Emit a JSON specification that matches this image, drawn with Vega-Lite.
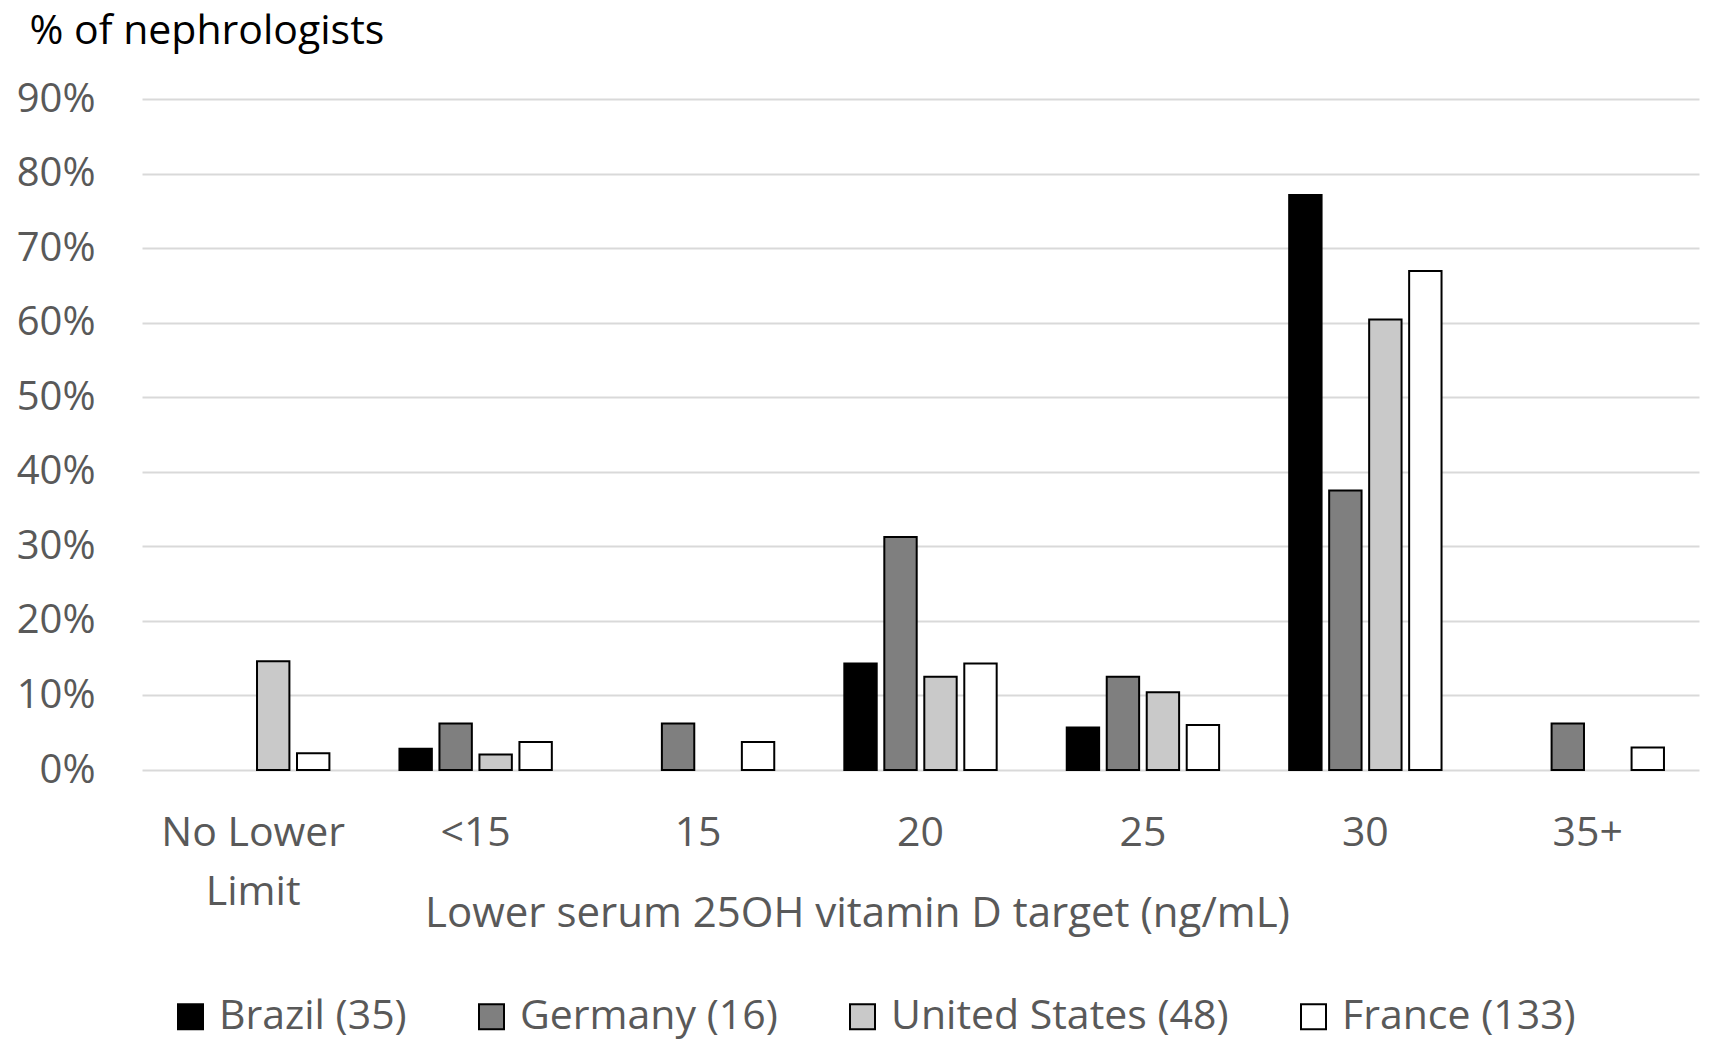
{
  "$schema": "https://vega.github.io/schema/vega-lite/v6.json",
  "width": 1557,
  "height": 671,
  "autosize": "none",
  "padding": {"left": 142, "top": 99, "right": 11, "bottom": 275},
  "background": "white",
  "config": {"view": {"stroke": null}, "font": "Open Sans"},
  "data": {
    "values": [
      {"cat": "No Lower Limit", "country": "United States (48)", "pct": 14.58},
      {"cat": "No Lower Limit", "country": "France (133)", "pct": 2.26},
      {"cat": "<15", "country": "Brazil (35)", "pct": 2.86},
      {"cat": "<15", "country": "Germany (16)", "pct": 6.25},
      {"cat": "<15", "country": "United States (48)", "pct": 2.08},
      {"cat": "<15", "country": "France (133)", "pct": 3.76},
      {"cat": "15", "country": "Germany (16)", "pct": 6.25},
      {"cat": "15", "country": "France (133)", "pct": 3.76},
      {"cat": "20", "country": "Brazil (35)", "pct": 14.29},
      {"cat": "20", "country": "Germany (16)", "pct": 31.25},
      {"cat": "20", "country": "United States (48)", "pct": 12.5},
      {"cat": "20", "country": "France (133)", "pct": 14.29},
      {"cat": "25", "country": "Brazil (35)", "pct": 5.71},
      {"cat": "25", "country": "Germany (16)", "pct": 12.5},
      {"cat": "25", "country": "United States (48)", "pct": 10.42},
      {"cat": "25", "country": "France (133)", "pct": 6.02},
      {"cat": "30", "country": "Brazil (35)", "pct": 77.14},
      {"cat": "30", "country": "Germany (16)", "pct": 37.5},
      {"cat": "30", "country": "United States (48)", "pct": 60.42},
      {"cat": "30", "country": "France (133)", "pct": 66.92},
      {"cat": "35+", "country": "Germany (16)", "pct": 6.25},
      {"cat": "35+", "country": "France (133)", "pct": 3.01}
    ]
  },
  "mark": {"type": "bar", "stroke": "black", "strokeWidth": 2},
  "encoding": {
    "x": {
      "field": "cat",
      "type": "nominal",
      "sort": null,
      "scale": {"domain": ["No Lower Limit", "<15", "15", "20", "25", "30", "35+"], "paddingInner": 0.315, "paddingOuter": 0.1575},
      "axis": {
        "labelAngle": 0,
        "labelFontSize": 41,
        "labelColor": "#595959",
        "labelBaseline": "top",
        "labelPadding": 43,
        "labelLineHeight": 59,
        "labelLimit": 1000,
        "labelExpr": "datum.label == 'No Lower Limit' ? ['No Lower', 'Limit'] : datum.label",
        "domain": false,
        "ticks": false,
        "title": "Lower serum 25OH vitamin D target (ng/mL)",
        "titleFontSize": 42,
        "titleFontWeight": "normal",
        "titleColor": "#595959",
        "titleX": 715,
        "titleY": 143,
        "titleAlign": "center",
        "titleBaseline": "middle"
      }
    },
    "xOffset": {
      "field": "country",
      "type": "nominal",
      "scale": {"domain": ["Brazil (35)", "Germany (16)", "United States (48)", "France (133)"], "paddingInner": 0.19}
    },
    "y": {
      "field": "pct",
      "type": "quantitative",
      "scale": {"domain": [0, 90]},
      "axis": {
        "values": [0, 10, 20, 30, 40, 50, 60, 70, 80, 90],
        "labelExpr": "datum.value + '%'",
        "gridColor": "#d9d9d9",
        "gridWidth": 2,
        "domain": false,
        "ticks": false,
        "labelFontSize": 40,
        "labelColor": "#595959",
        "labelPadding": 47,
        "title": "% of nephrologists",
        "titleAngle": 0,
        "titleAlign": "left",
        "titleBaseline": "middle",
        "titleX": -113,
        "titleY": -68,
        "titleFontSize": 41,
        "titleFontWeight": "normal",
        "titleColor": "black"
      }
    },
    "color": {
      "field": "country",
      "type": "nominal",
      "scale": {"domain": ["Brazil (35)", "Germany (16)", "United States (48)", "France (133)"], "range": ["#000000", "#7f7f7f", "#c9c9c9", "#ffffff"]},
      "legend": {
        "title": null,
        "orient": "none",
        "direction": "horizontal",
        "legendX": 28,
        "legendY": 897,
        "symbolType": "square",
        "symbolSize": 625,
        "symbolStrokeColor": "black",
        "symbolStrokeWidth": 2,
        "labelFontSize": 41,
        "labelColor": "#595959",
        "labelOffset": 8,
        "labelLimit": 1000,
        "columnPadding": 64
      }
    }
  }
}
